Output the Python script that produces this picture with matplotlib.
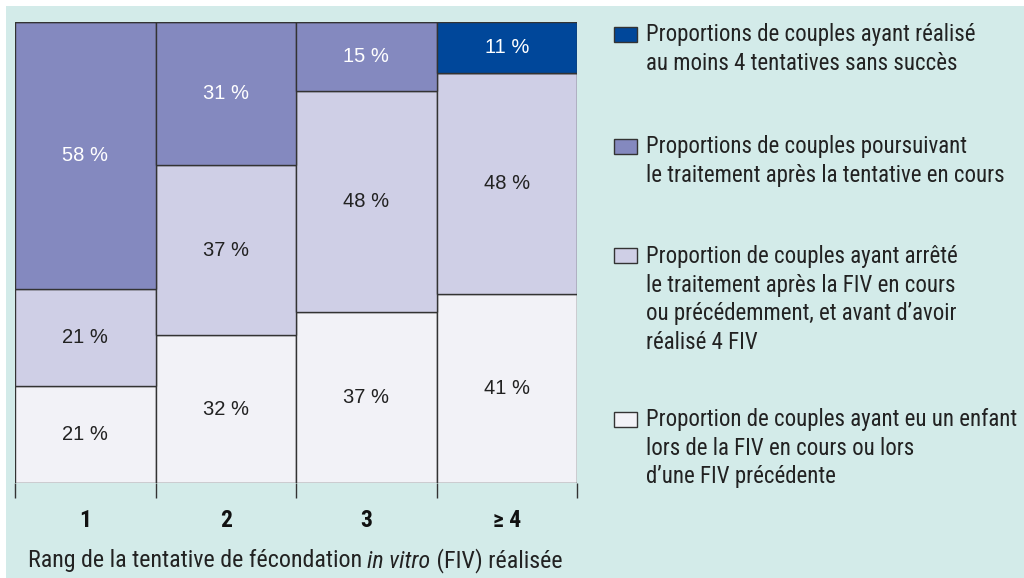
import matplotlib.pyplot as plt
from matplotlib.patches import Rectangle
from matplotlib import font_manager as fm
import numpy as np

# data (percent, bottom -> top)
categories = ['1', '2', '3', '\u2265 4']
enfant = [21, 32, 37, 41]
arrete = [21, 37, 48, 48]
poursuivant = [58, 31, 15, 0]
echec = [0, 0, 0, 11]

series = [enfant, arrete, poursuivant, echec]
colors = ['#f2f2f7', '#cfcfe6', '#8489bf', '#00479a']
text_colors = ['#222222', '#222222', 'white', 'white']
legend_labels = [
    "Proportions de couples ayant réalisé\nau moins 4 tentatives sans succès",
    "Proportions de couples poursuivant\nle traitement après la tentative en cours",
    "Proportion de couples ayant arrêté\nle traitement après la FIV en cours\nou précédemment, et avant d\u2019avoir\nréalisé 4 FIV",
    "Proportion de couples ayant eu un enfant\nlors de la FIV en cours ou lors\nd\u2019une FIV précédente",
]
legend_colors = ['#00479a', '#8489bf', '#cfcfe6', '#f2f2f7']
legend_y = [34, 146, 256, 419]  # pixel rows of first line / swatch centre


def narrow_font(style='normal', bold=False):
    # look for a condensed face among installed fonts
    prefs = ['Liberation Sans Narrow', 'Roboto', 'Noto Sans', 'Open Sans', 'DejaVu Sans', 'Lato', 'Inter']
    found = {}
    for f in fm.fontManager.ttflist:
        narrowish = ('condensed' in str(f.stretch)) or ('Narrow' in f.name) or ('Condensed' in f.name)
        if not narrowish or 'extra' in str(f.stretch) or 'ultra' in str(f.stretch):
            continue
        if f.style != style:
            continue
        w = f.weight if isinstance(f.weight, int) else (700 if 'bold' in str(f.weight) else 400)
        if bold != (w >= 600) or (not bold and w < 400):
            continue
        for p in prefs:
            if f.name.startswith(p):
                found.setdefault(p, f.fname)
    for p in prefs:
        if p in found:
            return fm.FontProperties(fname=found[p])
    return None


reg = narrow_font()
bld = narrow_font(bold=True)
ita = narrow_font(style='italic')
scale = 1.0
if reg is None:
    reg = fm.FontProperties(family='DejaVu Sans')
    scale = 0.85
if bld is None:
    bld = reg.copy()
    bld.set_weight('bold')
if ita is None:
    ita = reg.copy()
    ita.set_style('italic')


def fp(base, size):
    p = base.copy()
    p.set_size(size * scale)
    return p


W, H = 1024, 578
fig = plt.figure(figsize=(W / 100, H / 100), dpi=100, facecolor='white')
fig.patches.append(Rectangle((6 / W, 0), 1, 1 - 6 / H, transform=fig.transFigure,
                             fc='#d3ebe9', ec='none', zorder=-1))

ax = fig.add_axes([15 / W, 1 - 483 / H, (577 - 15) / W, (483 - 22) / H])
ax.set_facecolor('none')

x = np.arange(len(categories))
bottom = np.zeros(len(categories))
for vals, c, tc in zip(series, colors, text_colors):
    vals = np.array(vals, dtype=float)
    ax.bar(x + 0.5, vals, width=1.0, bottom=bottom, color=c, edgecolor='#333333',
           linewidth=1.0, align='center')
    for xi, v, b in zip(x, vals, bottom):
        if v > 0:
            ax.text(xi + 0.5, b + v / 2, f'{int(v)} %', ha='center', va='center',
                    fontsize=14.5, color=tc, family='Liberation Sans')
    bottom += vals

ax.set_xlim(0, len(categories))
ax.set_ylim(0, 100)
for s in ax.spines.values():
    s.set_visible(False)
ax.set_yticks([])
ax.set_xticks(np.arange(len(categories) + 1))
ax.set_xticklabels([])
ax.tick_params(axis='x', which='major', length=11, width=1, color='#333333', direction='out')
ax.set_xticks(x + 0.5, minor=True)
ax.set_xticklabels(categories, minor=True, fontproperties=fp(bld, 17), color='#111111')
ax.tick_params(axis='x', which='minor', length=0, pad=19)

# x label with italic "in vitro", pieces placed side by side
fig.canvas.draw()
renderer = fig.canvas.get_renderer()
parts = [('Rang de la tentative de fécondation ', reg), ('in vitro', ita), (' (FIV) réalisée', reg)]
texts = []
for s, base in parts:
    t = fig.text(0, 1 - 561 / H, s, ha='left', va='center', fontproperties=fp(base, 17.3), color='#222222')
    texts.append(t)
widths = [t.get_window_extent(renderer).width for t in texts]
xpos = 295 - sum(widths) / 2
for t, w in zip(texts, widths):
    t.set_x(xpos / W)
    xpos += w

# legend drawn by hand
for lab, c, yy in zip(legend_labels, legend_colors, legend_y):
    fig.patches.append(Rectangle((614 / W, 1 - (yy + 7.5) / H), 23 / W, 15 / H,
                                 transform=fig.transFigure, fc=c, ec='#333333', lw=1))
    fig.text(646 / W, 1 - (yy - 11) / H, lab, ha='left', va='top', fontproperties=fp(reg, 16.5),
             color='#222222', linespacing=1.31)

fig.savefig('out.png', dpi=100, facecolor=fig.get_facecolor())
